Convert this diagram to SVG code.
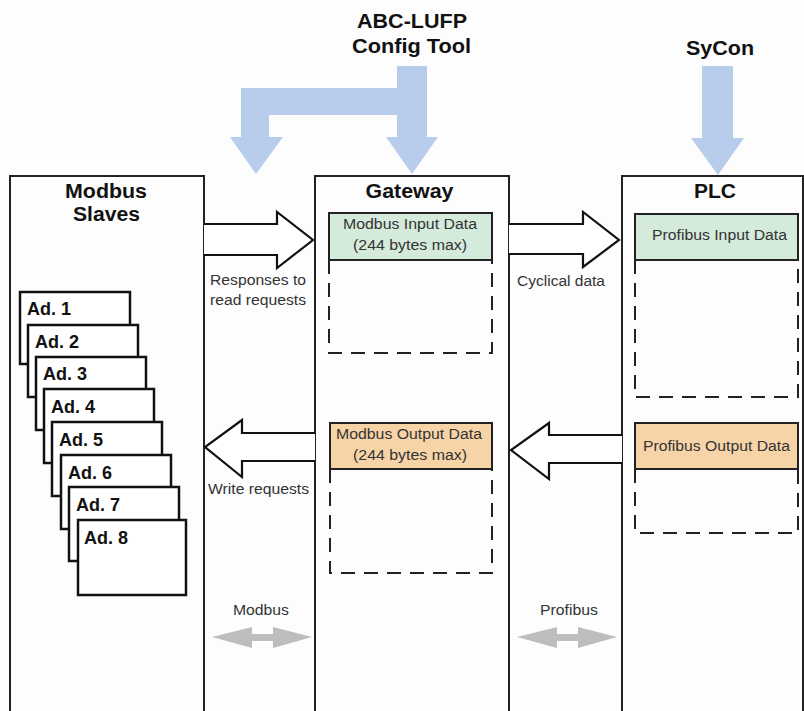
<svg xmlns="http://www.w3.org/2000/svg" width="804" height="711" viewBox="0 0 804 711">
<style>
  .panel{fill:none;stroke:#222;stroke-width:2}
  .title{font-family:"Liberation Sans",Arial,sans-serif;font-weight:bold;font-size:20px;fill:#111;text-anchor:middle}
  .lbl{font-family:"Liberation Sans",Arial,sans-serif;font-size:14px;fill:#333}
  .dlbl{font-family:"Liberation Sans",Arial,sans-serif;font-size:14px;fill:#333;text-anchor:middle}
  .card rect{fill:#fff;stroke:#111;stroke-width:2.5}
  .card text{font-family:"Liberation Sans",Arial,sans-serif;font-weight:bold;font-size:18px;fill:#111}
  .solid{stroke:#222;stroke-width:2}
  .dash{fill:none;stroke:#222;stroke-width:2;stroke-dasharray:14 9}
  .hollow{fill:#fff;stroke:#111;stroke-width:2.2;stroke-linejoin:miter}
  .cfg{fill:#b7cdeb}
  .bus{fill:#bdbdbd}
</style>
<rect width="804" height="711" fill="#fdfdfd"/>

<g id="abc-lufp">
  <text class="title" x="412" y="28" textLength="110" lengthAdjust="spacingAndGlyphs">ABC-LUFP</text>
  <text class="title" x="411.5" y="53" textLength="119" lengthAdjust="spacingAndGlyphs">Config Tool</text>
</g>
<g id="sycon">
  <text class="title" x="720" y="55" textLength="68" lengthAdjust="spacingAndGlyphs">SyCon</text>
</g>

<g id="modbus-slaves">
  <path class="panel" d="M10,711 V176 H204 V711"/>
  <text class="title" x="106" y="198" textLength="82" lengthAdjust="spacingAndGlyphs">Modbus</text>
  <text class="title" x="106.5" y="221" textLength="67" lengthAdjust="spacingAndGlyphs">Slaves</text>
  <g class="card" id="ad1"><rect x="20" y="292" width="110" height="72"/><text x="27" y="315">Ad. 1</text></g>
  <g class="card" id="ad2"><rect x="28" y="325" width="110" height="72"/><text x="35" y="348">Ad. 2</text></g>
  <g class="card" id="ad3"><rect x="36" y="357" width="110" height="73"/><text x="43" y="380">Ad. 3</text></g>
  <g class="card" id="ad4"><rect x="44" y="389" width="110" height="74"/><text x="51" y="413">Ad. 4</text></g>
  <g class="card" id="ad5"><rect x="52" y="422" width="110" height="74"/><text x="59" y="446">Ad. 5</text></g>
  <g class="card" id="ad6"><rect x="61" y="455" width="110" height="74"/><text x="68" y="479">Ad. 6</text></g>
  <g class="card" id="ad7"><rect x="69" y="487" width="110" height="74"/><text x="76" y="511">Ad. 7</text></g>
  <g class="card" id="ad8"><rect x="78" y="520" width="108" height="75"/><text x="84" y="544">Ad. 8</text></g>
</g>

<g id="gateway">
  <path class="panel" d="M315,711 V176 H509 V711"/>
  <text class="title" x="409.5" y="198" textLength="88" lengthAdjust="spacingAndGlyphs">Gateway</text>
  <g id="modbus-input">
    <rect x="329" y="213" width="163" height="47" fill="#d4eadb" class="solid"/>
    <path class="dash" d="M329,260 V353 H492 V260"/>
    <text class="dlbl" x="410" y="229" textLength="134" lengthAdjust="spacingAndGlyphs">Modbus Input Data</text>
    <text class="dlbl" x="410" y="250" textLength="114" lengthAdjust="spacingAndGlyphs">(244 bytes max)</text>
  </g>
  <g id="modbus-output">
    <rect x="330" y="423" width="162" height="46" fill="#f6d4a8" class="solid"/>
    <path class="dash" d="M330,469 V573 H492 V469"/>
    <text class="dlbl" x="409" y="439" textLength="146" lengthAdjust="spacingAndGlyphs">Modbus Output Data</text>
    <text class="dlbl" x="410" y="460" textLength="114" lengthAdjust="spacingAndGlyphs">(244 bytes max)</text>
  </g>
</g>

<g id="plc">
  <path class="panel" d="M622,711 V176 H803 V711"/>
  <text class="title" x="715" y="198" textLength="42" lengthAdjust="spacingAndGlyphs">PLC</text>
  <g id="profibus-input">
    <rect x="635" y="214" width="163" height="46" fill="#d4eadb" class="solid"/>
    <path class="dash" d="M635,260 V397 H798 V260"/>
    <text class="dlbl" x="719.5" y="240" textLength="135" lengthAdjust="spacingAndGlyphs">Profibus Input Data</text>
  </g>
  <g id="profibus-output">
    <rect x="635" y="423" width="163" height="46" fill="#f6d4a8" class="solid"/>
    <path class="dash" d="M635,469 V533 H798 V469"/>
    <text class="dlbl" x="716.5" y="451" textLength="147" lengthAdjust="spacingAndGlyphs">Profibus Output Data</text>
  </g>
</g>

<g id="connectors">
  <path class="cfg" d="M397,66 H427 V137 H438 L412,174 L386,137 H397 V115 H269 V137 H283 L256,174 L230,137 H241 V88 H397 Z"/>
  <path class="cfg" d="M702,66 H733 V138 H744 L718,175 L691,138 H702 Z"/>
  <path class="hollow" d="M204,224 H277 V212 L313,240 L277,268 V255 H204"/>
  <path class="hollow" d="M509,224 H583 V212 L619,240 L583,267 V254 H509"/>
  <path class="hollow" d="M315,433 H242 V420 L205,447 L242,477 V461 H315"/>
  <path class="hollow" d="M622,435 H549 V423 L511,450 L549,479 V463 H622"/>
  <path class="bus" d="M212,637 L252,627 V634 H273 V627 L312,637 L273,648 V641 H252 V648 Z"/>
  <path class="bus" d="M517,637 L557,627 V634 H578 V627 L617,637 L578,648 V641 H557 V648 Z"/>
  <text class="lbl" x="210" y="285" textLength="96" lengthAdjust="spacingAndGlyphs">Responses to</text>
  <text class="lbl" x="210" y="305" textLength="96" lengthAdjust="spacingAndGlyphs">read requests</text>
  <text class="lbl" x="517" y="286" textLength="88" lengthAdjust="spacingAndGlyphs">Cyclical data</text>
  <text class="lbl" x="208" y="494" textLength="101" lengthAdjust="spacingAndGlyphs">Write requests</text>
  <text class="lbl" x="261" y="615" text-anchor="middle" textLength="56" lengthAdjust="spacingAndGlyphs">Modbus</text>
  <text class="lbl" x="569" y="615" text-anchor="middle" textLength="58" lengthAdjust="spacingAndGlyphs">Profibus</text>
</g>
</svg>
